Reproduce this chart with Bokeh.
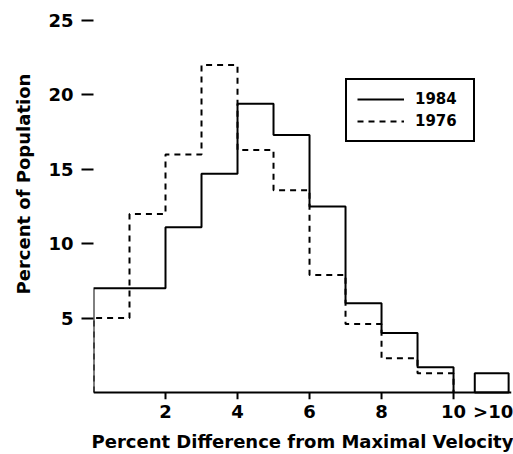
from bokeh.plotting import figure
from bokeh.models import FixedTicker, Legend, LegendItem, Range1d, Title
from bokeh.embed import file_html
from bokeh.resources import INLINE

# ---- data ----
bin_edges = [0, 1, 2, 3, 4, 5, 6, 7, 8, 9, 10]
pct_1984 = [7.0, 7.0, 11.1, 14.7, 19.4, 17.3, 12.5, 6.0, 4.0, 1.7]
pct_1976 = [5.0, 12.0, 16.0, 22.0, 16.3, 13.6, 7.9, 4.6, 2.3, 1.3]
over10_1984 = 1.3
over10_bin = [10.59, 11.53]
x_ticks = [2, 4, 6, 8, 10]
over10_tick = 11.1
over10_label = ">10"
y_ticks = [5, 10, 15, 20, 25]

FONT = "DejaVu Sans"
X_END = 11.61
Y_START, Y_END = -0.469, 25.67


def step_path(edges, vals):
    xs, ys = [edges[0]], [0]
    for i, v in enumerate(vals):
        xs += [edges[i], edges[i + 1]]
        ys += [v, v]
    xs.append(edges[-1])
    ys.append(0)
    return xs, ys


p = figure(width=513, height=454, output_backend="svg", toolbar_location=None,
           x_range=Range1d(0, X_END), y_range=Range1d(Y_START, Y_END),
           min_border_left=90, min_border_right=2, min_border_top=10,
           min_border_bottom=54)
p.outline_line_color = None
p.grid.visible = False
p.background_fill_color = "white"

x76, y76 = step_path(bin_edges, pct_1976)
x84, y84 = step_path(bin_edges, pct_1984)
r76 = p.line(x76, y76, line_color="black", line_width=2, line_dash="6 5")
r84 = p.line(x84, y84, line_color="black", line_width=2)
p.quad(left=[over10_bin[0]], right=[over10_bin[1]], bottom=[0], top=[over10_1984],
       fill_color=None, line_color="black", line_width=2)

# baseline and x tick marks (drawn in data space so that ">10" gets no tick)
p.line([bin_edges[0], X_END], [0, 0], line_color="black", line_width=2)
p.segment(x0=x_ticks, y0=[0] * len(x_ticks), x1=x_ticks, y1=[Y_START] * len(x_ticks),
          line_color="black", line_width=2)

# x axis: labels only
xa = p.xaxis[0]
xa.ticker = FixedTicker(ticks=x_ticks + [over10_tick])
xa.major_label_overrides = {over10_tick: over10_label}
xa.axis_line_color = None
xa.major_tick_line_color = None
xa.minor_tick_line_color = None
xa.major_tick_in = 0
xa.major_tick_out = 0
xa.major_label_standoff = 1
xa.major_label_text_font = FONT
xa.major_label_text_font_style = "bold"
xa.major_label_text_font_size = "18px"
xa.major_label_text_color = "black"
xa.axis_label = "Percent Difference from Maximal Velocity"
xa.axis_label_text_font = FONT
xa.axis_label_text_font_style = "bold"
xa.axis_label_text_font_size = "18px"
xa.axis_label_text_color = "black"
xa.axis_label_standoff = 6

ya = p.yaxis[0]
ya.ticker = FixedTicker(ticks=y_ticks)
ya.minor_tick_line_color = None
ya.axis_line_color = None
ya.major_tick_in = 0
ya.major_tick_out = 12
ya.major_tick_line_width = 2
ya.major_label_standoff = 8
ya.major_label_text_font = FONT
ya.major_label_text_font_style = "bold"
ya.major_label_text_font_size = "18px"
ya.major_label_text_color = "black"

ytitle = Title(text="Percent of Population", align="left", offset=105,
               vertical_align="middle", standoff=22, text_font=FONT,
               text_font_style="bold", text_font_size="18px", text_color="black")
p.add_layout(ytitle, "left")

legend = Legend(items=[LegendItem(label="1984", renderers=[r84]),
                       LegendItem(label="1976", renderers=[r76])],
                location=(252, 257), margin=0, padding=10, spacing=4,
                glyph_width=47, glyph_height=18, label_height=18, label_width=48,
                label_standoff=11, label_text_font=FONT,
                label_text_font_style="bold", label_text_font_size="15px",
                label_text_color="black",
                border_line_color="black", border_line_width=2,
                border_line_alpha=1,
                background_fill_color="white", background_fill_alpha=1)
p.add_layout(legend)

open("out.html", "w").write(file_html(p, INLINE))
